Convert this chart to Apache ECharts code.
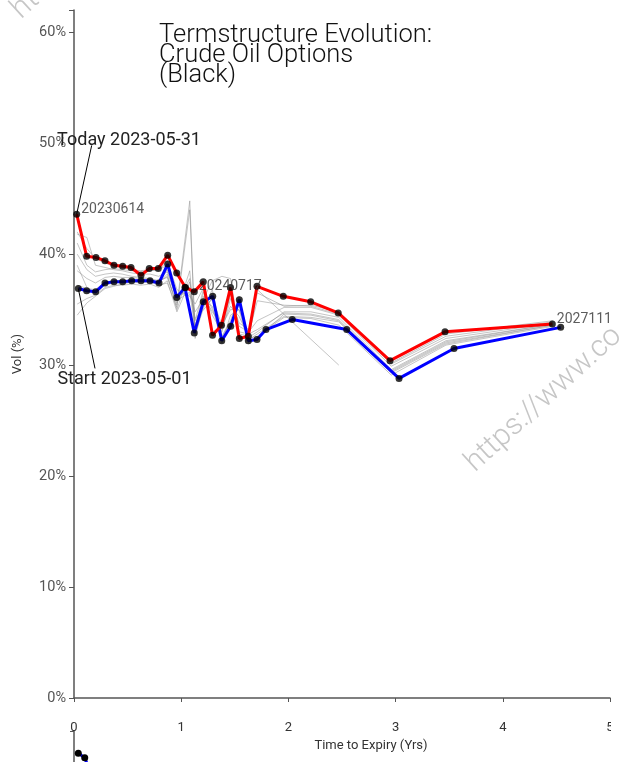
<!DOCTYPE html>
<html>
<head>
<meta charset="utf-8">
<script src="https://cdn.jsdelivr.net/npm/echarts@6/dist/echarts.min.js"></script>
<style>
    html, body { margin: 0; padding: 0; background: #fff; }
    #myCharts { width: 621px; height: 762px; }
</style>
</head>
<body>
<div id="myCharts"></div>
<script>
    // time to expiry (yrs) / vol (%)
    const todayT = [0.025, 0.118, 0.205, 0.289, 0.373, 0.454, 0.532, 0.625, 0.702, 0.786, 0.874, 0.958, 1.040, 1.122, 1.206, 1.292, 1.376, 1.460, 1.542, 1.626, 1.707, 1.952, 2.208, 2.465, 2.948, 3.461, 4.462];
    const todayVol = [43.6, 39.8, 39.7, 39.4, 39.0, 38.9, 38.8, 38.1, 38.7, 38.7, 39.9, 38.3, 37.0, 36.6, 37.5, 32.7, 33.6, 37.0, 32.4, 32.6, 37.1, 36.2, 35.7, 34.7, 30.4, 33.0, 33.7];
    const startT = [0.040, 0.118, 0.202, 0.289, 0.373, 0.454, 0.538, 0.625, 0.709, 0.793, 0.874, 0.958, 1.035, 1.122, 1.206, 1.294, 1.378, 1.462, 1.542, 1.626, 1.707, 1.791, 2.036, 2.544, 3.032, 3.545, 4.540];
    const startVol = [36.9, 36.7, 36.6, 37.4, 37.5, 37.5, 37.6, 37.6, 37.6, 37.4, 39.1, 36.1, 37.0, 32.9, 35.7, 36.2, 32.2, 33.5, 35.9, 32.2, 32.3, 33.2, 34.1, 33.2, 28.8, 31.5, 33.4];

    // days in between (grey)
    const greyT = [0.03, 0.12, 0.20, 0.29, 0.37, 0.45, 0.54, 0.62, 0.71, 0.79, 0.87, 0.96, 1.08, 1.13, 1.21, 1.29, 1.38, 1.46, 1.54, 1.63, 1.71, 1.96, 2.21, 2.47, 2.96, 3.47, 4.47];
    const grey1 = [37.2, 36.9, 36.8, 37.5, 37.6, 37.6, 37.7, 37.7, 37.6, 37.3, 38.6, 35.8, 36.6, 33.2, 35.4, 35.9, 32.5, 33.8, 35.5, 32.4, 32.6, 34.3, 34.2, 33.6, 29.1, 31.8, 33.5];
    const grey2 = [38.5, 37.8, 37.4, 37.9, 38.0, 37.9, 37.9, 37.8, 37.7, 37.5, 38.0, 35.4, 44.8, 32.4, 35.8, 35.3, 32.0, 34.5, 35.0, 31.9, 32.4, 34.6, 34.5, 34.0, 29.4, 32.0, 33.6];
    const grey3 = [34.5, 35.6, 36.2, 36.9, 37.1, 37.3, 37.5, 37.4, 37.5, 37.2, 37.4, 35.2, 44.0, 33.0, 36.2, 34.8, 33.5, 35.3, 34.4, 32.5, 33.0, 34.8, 34.8, 34.3, 29.6, 32.2, 33.7];
    const grey4 = [40.0, 38.6, 38.0, 38.2, 38.3, 38.2, 38.0, 37.9, 37.8, 37.6, 37.9, 35.6, 37.8, 33.5, 36.6, 34.5, 33.0, 36.0, 33.8, 33.2, 36.8, null, null, 30.0, null, null, null];
    const grey5 = [41.8, 41.5, 39.0, 38.8, 38.6, 38.5, 38.3, 38.2, 38.2, 38.0, 38.4, 36.0, 37.0, 34.0, 36.9, 35.0, 33.2, 36.4, 33.5, 33.0, 34.0, 35.2, 35.2, 34.5, 29.9, 32.4, 33.8];
    const grey6 = [41.0, 39.0, 38.4, 38.6, 38.7, 38.6, 38.5, 38.4, 38.5, 38.6, 39.0, 36.4, 36.4, 34.8, 36.0, 37.6, 38.0, 37.8, 33.0, 32.8, 35.8, 35.4, 35.3, 34.6, 30.1, 32.6, 33.9];
    const grey7 = [39.0, 37.0, 36.5, 37.2, 37.4, 37.5, 37.6, 37.5, 37.6, 37.4, 38.2, 35.0, 38.5, 32.8, 35.2, 36.8, 32.6, 34.0, 36.2, 32.3, 32.8, 34.4, 34.3, 33.9, 29.3, 31.9, 33.6];
    const grey8 = [35.5, 36.0, 36.3, 37.0, 37.2, 37.2, 37.3, 37.2, 37.3, 37.0, 37.6, 34.8, 37.5, 34.2, 35.0, 36.0, 33.6, 35.0, 35.0, 32.8, 33.2, 34.7, 34.6, 34.1, 29.5, 32.1, 33.7];
    const grey9 = [42.0, 40.5, 39.6, 39.2, 38.9, 38.8, 38.6, 38.5, 38.6, 38.5, 39.4, 36.8, 36.2, 35.5, 37.0, 33.0, 33.4, 36.6, 32.8, 32.6, 36.5, 35.3, 35.4, 34.8, 30.2, 32.8, 34.0];
    const greyVols = [grey1, grey2, grey3, grey4, grey5, grey6, grey7, grey8, grey9];

    // the next panel, cut off at the bottom
    const lowerT = [0.04, 0.10, 0.20];
    const lowerVol = [60.0, 59.6, 57.0];

    const expiryLabels = {0: '20230614', 13: '20240717', 26: '20271116'};
    const yTicks = [0, 10, 20, 30, 40, 50, 60];

    function pairs(xs, ys) {
        return xs.map((x, i) => [x, ys[i]]);
    }

    const myCharts = echarts.init(document.getElementById('myCharts'));
    const font = 'Roboto, "DejaVu Sans", sans-serif';

    let series = [];
    greyVols.forEach(function (g) {
        series.push({
            type: 'line', xAxisIndex: 0, yAxisIndex: 0,
            data: pairs(greyT, g),
            symbol: 'none', connectNulls: true, animation: false, silent: true,
            lineStyle: {color: 'rgba(140,140,140,0.5)', width: 1}
        });
    });
    series.push({
        name: 'start', type: 'line', data: pairs(startT, startVol),
        symbol: 'none', animation: false, z: 3,
        lineStyle: {color: '#0000ff', width: 3},
        markLine: {
            silent: true, animation: false,
            symbol: ['none', 'arrow'], symbolSize: [0, 8],
            lineStyle: {color: '#000', width: 1, type: 'solid'},
            label: {show: false},
            data: [[{coord: [0.196, 29.7]}, {coord: [startT[0], startVol[0]]}]]
        },
        markPoint: {
            symbol: 'circle', symbolSize: 0, animation: false, silent: true,
            label: {show: true, position: 'inside', formatter: '{b}', fontSize: 18, color: '#222', fontFamily: font},
            data: [{name: 'Start 2023-05-01', coord: [0.471, 28.74]}]
        }
    });
    series.push({
        name: 'today', type: 'line', data: pairs(todayT, todayVol),
        symbol: 'none', animation: false, z: 4,
        lineStyle: {color: '#ff0000', width: 3},
        markLine: {
            silent: true, animation: false,
            symbol: ['none', 'arrow'], symbolSize: [0, 8],
            lineStyle: {color: '#000', width: 1, type: 'solid'},
            label: {show: false},
            data: [[{coord: [0.165, 49.8]}, {coord: [todayT[0], todayVol[0]]}]]
        },
        markPoint: {
            symbol: 'circle', symbolSize: 0, animation: false, silent: true,
            label: {show: true, position: 'inside', formatter: '{b}', fontSize: 18, color: '#222', fontFamily: font},
            data: [{name: 'Today 2023-05-31', coord: [0.513, 50.27]}]
        }
    });
    // dots on top of all lines
    series.push({
        type: 'scatter', data: pairs(startT, startVol), symbolSize: 7, z: 5,
        animation: false, itemStyle: {color: '#000'}
    });
    series.push({
        type: 'scatter', z: 6, symbolSize: 7, animation: false,
        itemStyle: {color: '#000'},
        data: todayT.map(function (t, i) {
            let item = {value: [t, todayVol[i]]};
            if (expiryLabels[i]) {
                item.label = {
                    show: true, position: 'right', distance: 1, offset: [0, -5],
                    formatter: expiryLabels[i], fontSize: 14, color: '#333', fontFamily: font
                };
            }
            return item;
        })
    });
    series.push({
        type: 'line', xAxisIndex: 1, yAxisIndex: 1, data: pairs(lowerT, lowerVol),
        symbol: 'circle', symbolSize: 7, animation: false, clip: false,
        itemStyle: {color: '#000'}, lineStyle: {color: '#0000ff', width: 3}
    });

    let options = {
        animation: false,
        textStyle: {fontFamily: font},
        title: {
            text: 'Termstructure Evolution:\nCrude Oil Options\n(Black)',
            left: 159, top: 26, padding: 0,
            textStyle: {fontSize: 25.5, fontWeight: 300, lineHeight: 20, color: '#111', fontFamily: font}
        },
        grid: [
            {left: 74, right: 11, top: 10, height: 688, outerBoundsMode: 'none'},
            {left: 74, right: 11, top: 731, height: 688, outerBoundsMode: 'none'}
        ],
        xAxis: [{
            type: 'value', min: 0, max: 5, interval: 1, offset: 18,
            name: 'Time to Expiry (Yrs)', nameLocation: 'middle', nameGap: 17,
            nameTextStyle: {fontSize: 13, color: '#333', padding: [0, 0, 0, 58]},
            axisLine: {lineStyle: {color: '#555', width: 1.5}},
            axisTick: {length: 4, lineStyle: {color: '#555'}},
            axisLabel: {fontSize: 13, color: '#333', margin: 5},
            splitLine: {show: false}
        }, {
            gridIndex: 1, type: 'value', min: 0, max: 5, show: false
        }],
        yAxis: [{
            type: 'value', min: 0, max: 62,
            name: 'Vol (%)', nameLocation: 'middle', nameGap: 50,
            nameTextStyle: {fontSize: 13, color: '#333'},
            axisLine: {show: true, lineStyle: {color: '#555', width: 1.5}},
            axisTick: {show: true, length: 5, customValues: yTicks.concat([62]), lineStyle: {color: '#555'}},
            axisLabel: {customValues: yTicks, fontSize: 14.5, color: '#555', margin: 8, formatter: '{value}%'},
            splitLine: {show: false}
        }, {
            gridIndex: 1, type: 'value', min: 0, max: 62,
            axisLine: {show: true, lineStyle: {color: '#555', width: 1.5}},
            axisTick: {show: true, length: 4, customValues: [62], lineStyle: {color: '#555'}},
            axisLabel: {show: false},
            splitLine: {show: false}
        }],
        graphic: [
            {type: 'rect', shape: {x: 611, y: 0, width: 10, height: 762}, style: {fill: '#fff'}, z: 100, silent: true},
            {type: 'text', x: 480, y: 478, rotation: 0.74, z: 101, silent: true,
                style: {text: 'https://www.co', fontSize: 30, fontWeight: 300, fontFamily: font, fill: 'rgba(160,160,160,0.6)', verticalAlign: 'bottom'}},
            {type: 'text', x: 26, y: 25, rotation: 0.74, z: 101, silent: true,
                style: {text: 'https://www.co', fontSize: 30, fontWeight: 300, fontFamily: font, fill: 'rgba(160,160,160,0.6)', verticalAlign: 'bottom'}}
        ],
        series: series
    };
    myCharts.setOption(options);
</script>
</body>
</html>
